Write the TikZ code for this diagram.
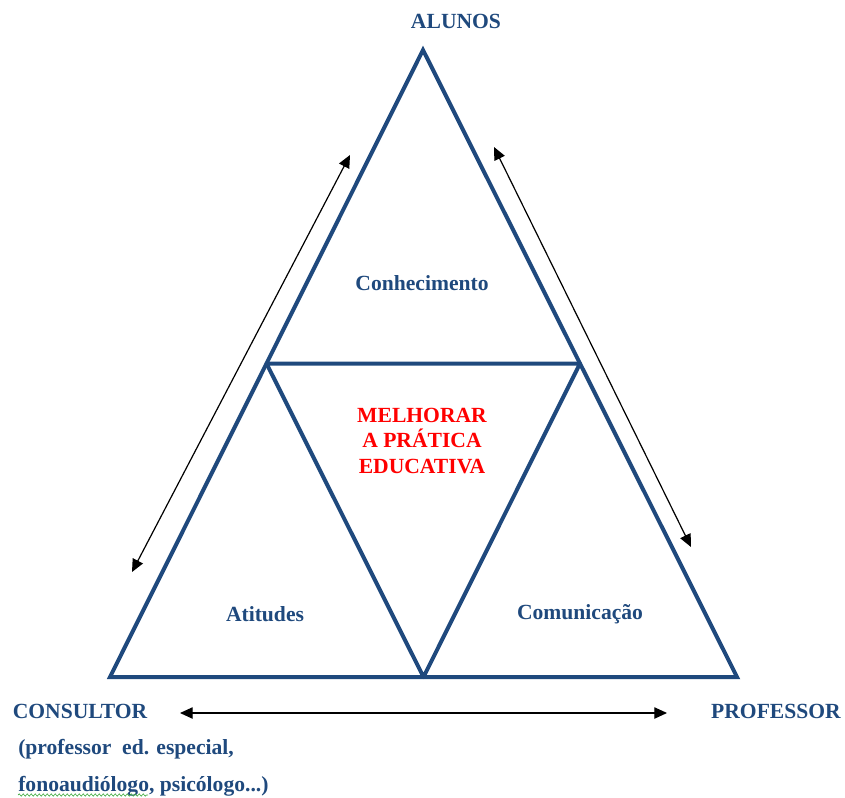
\documentclass[tikz,border=0pt]{standalone}
\usepackage{fontspec}
\setmainfont{Liberation Serif}
\usetikzlibrary{arrows.meta,decorations.pathmorphing}
\definecolor{tblue}{RGB}{31,73,125}
\definecolor{tred}{RGB}{255,0,0}
\definecolor{sgreen}{RGB}{60,170,60}
\begin{document}
\begin{tikzpicture}[x=0.75pt,y=-0.75pt,
  edge/.style={draw=tblue,line width=3pt,line join=miter},
  lbl/.style={font=\fontsize{16.2}{19}\selectfont\bfseries,text=tblue,inner sep=0pt},
  goal/.style={font=\fontsize{16.2}{19.2}\selectfont\bfseries,text=tred,inner sep=0pt,align=center},
  twoway/.style={{Triangle[length=9.5pt,width=8.5pt]}-{Triangle[length=9.5pt,width=8.5pt]},line width=0.9pt,draw=black}]
\useasboundingbox (0,0) rectangle (845,798);
% triangle vertices and midpoints
\coordinate (A) at (423,50);
\coordinate (B) at (110,677);
\coordinate (C) at (737,677);
\coordinate (AB) at (266.5,363.5);
\coordinate (AC) at (580,363.5);
\coordinate (BC) at (423.5,677);
\draw[edge] (A) -- (B) -- (C) -- cycle;
\draw[edge,line join=round] (AB) -- (AC) -- (BC) -- cycle;
% labels
\node[lbl] (alunos) at (456,21) {ALUNOS};
\node[lbl] (conh) at (422,283) {Conhecimento};
\node[goal] (melhorar) at (422,441) {MELHORAR\\A PRÁTICA\\EDUCATIVA};
\node[lbl] (atit) at (265,614) {Atitudes};
\node[lbl] (comu) at (580,614) {Comunicação};
\node[lbl] (consultor) at (80,711) {CONSULTOR};
\node[lbl] (professor) at (776,711) {PROFESSOR};
\node[lbl,anchor=west] (cons2) at (18,749) {(professor\ \ ed. especial,};
\node[lbl,anchor=west] (cons3) at (18,786) {fonoaudiólogo, psicólogo...)};
% spell-check squiggle
\coordinate (sq1) at (18,795);
\coordinate (sq2) at (148,795);
\draw[sgreen,line width=0.5pt,decorate,decoration={snake,segment length=3pt,amplitude=0.8pt}] (sq1) -- (sq2);
% two-way arrows
\coordinate (l1) at (350,155);
\coordinate (l2) at (132,572);
\coordinate (r1) at (494,147);
\coordinate (r2) at (691,547);
\coordinate (b1) at (180,713);
\coordinate (b2) at (667,713);
\draw[twoway] (l1) -- (l2);
\draw[twoway] (r1) -- (r2);
\draw[twoway] (b1) -- (b2);
\end{tikzpicture}
\end{document}
